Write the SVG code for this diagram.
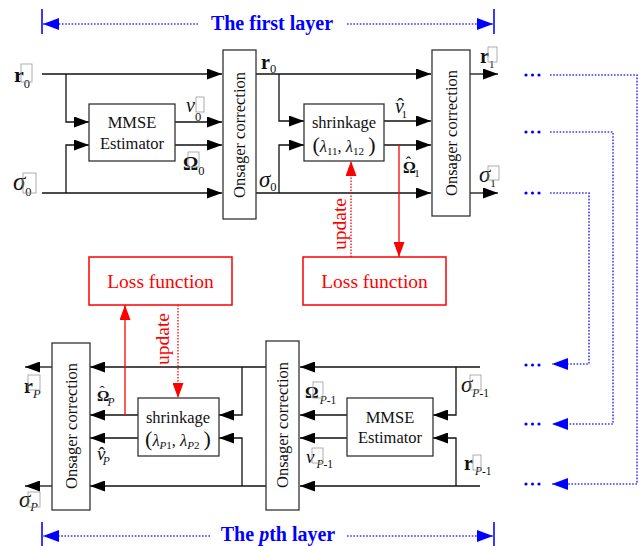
<svg xmlns="http://www.w3.org/2000/svg" width="642" height="546" viewBox="0 0 642 546" font-family="'Liberation Serif', 'Times New Roman', 'DejaVu Serif', serif">
<style>
text{font-family:'Liberation Serif','Times New Roman','DejaVu Serif',serif;fill:#111}
.box{fill:#fff;stroke:#333;stroke-width:1.3}
.rbox{fill:#fff;stroke:#f00;stroke-width:1.5}
.ln{fill:none;stroke:#111;stroke-width:1.3}
.ar{marker-end:url(#ab)}
.red{fill:none;stroke:#f00;stroke-width:1.3}
.rdot{fill:none;stroke:#f00;stroke-width:1.3;stroke-dasharray:1.5 1.5}
.bdot{fill:none;stroke:#3838ff;stroke-width:1.6;stroke-dasharray:1.6 1.6}
.bar{stroke:#3838ff;stroke-width:2}
.t{font-size:16.5px;text-anchor:middle}
.lf{font-size:19.5px;text-anchor:middle;fill:#f00}
.title{font-size:20px;font-weight:bold;fill:#00f;text-anchor:middle}
.b{font-weight:bold}
.i{font-style:italic}
.sub{font-size:12.5px}
.sq{fill:none;stroke:#999;stroke-width:0.8}
.dot{fill:#00f}
</style>
<defs>
<marker id="ab" markerUnits="userSpaceOnUse" markerWidth="15" markerHeight="11" refX="15" refY="5.5" orient="auto"><path d="M0,0 L15,5.5 L0,11 Z" fill="#000"/></marker>
<marker id="ar" markerUnits="userSpaceOnUse" markerWidth="15" markerHeight="11" refX="15" refY="5.5" orient="auto"><path d="M0,0 L15,5.5 L0,11 Z" fill="#f00"/></marker>
<marker id="abl" markerUnits="userSpaceOnUse" markerWidth="16" markerHeight="12" refX="16" refY="6" orient="auto"><path d="M0,0 L16,6 L0,12 Z" fill="#00f"/></marker>
</defs>

<g id="connectors">
<path class="ln ar" d="M42,74 H222"/>
<path class="ln ar" d="M66,74 V122 H89"/>
<path class="ln ar" d="M42,193 H222"/>
<path class="ln ar" d="M66,193 V145 H89"/>
<path class="ln ar" d="M175,122 H222"/>
<path class="ln ar" d="M175,145 H222"/>
<path class="ln ar" d="M256,74 H431"/>
<path class="ln ar" d="M279,74 V121 H304"/>
<path class="ln ar" d="M256,193 H431"/>
<path class="ln ar" d="M279,193 V145 H304"/>
<path class="ln ar" d="M384,121 H431"/>
<path class="ln ar" d="M384,145 H431"/>
<path class="ln ar" d="M470,74 H498"/>
<path class="ln ar" d="M470,193 H498"/>
<path class="red" d="M399,145 V257" marker-end="url(#ar)"/>
<path class="rdot" d="M351,257 V161" marker-end="url(#ar)"/>

<path class="ln ar" d="M480,367 H300"/>
<path class="ln ar" d="M456,367 V415 H433"/>
<path class="ln ar" d="M480,486 H300"/>
<path class="ln ar" d="M456,486 V438 H433"/>
<path class="ln ar" d="M347,415 H300"/>
<path class="ln ar" d="M347,438 H300"/>
<path class="ln ar" d="M266,367 H90"/>
<path class="ln ar" d="M242,367 V415 H219"/>
<path class="ln ar" d="M266,486 H90"/>
<path class="ln ar" d="M242,486 V438 H219"/>
<path class="ln ar" d="M138,415 H90"/>
<path class="ln ar" d="M138,438 H90"/>
<path class="ln ar" d="M52,367 H25"/>
<path class="ln ar" d="M52,486 H25"/>
<path class="red" d="M125,415 V305" marker-end="url(#ar)"/>
<path class="rdot" d="M178,305 V398" marker-end="url(#ar)"/>

<path class="bdot" d="M550,75 H637 V484 H552" marker-end="url(#abl)"/>
<path class="bdot" d="M550,132 H613 V424 H552" marker-end="url(#abl)"/>
<path class="bdot" d="M550,193 H589 V364 H552" marker-end="url(#abl)"/>

<path class="bdot" d="M198,24 H43" marker-end="url(#abl)"/>
<path class="bdot" d="M347,24 H493" marker-end="url(#abl)"/>
<path class="bdot" d="M210,536 H43" marker-end="url(#abl)"/>
<path class="bdot" d="M347,536 H493" marker-end="url(#abl)"/>
<line class="bar" x1="42" y1="9" x2="42" y2="34"/>
<line class="bar" x1="494" y1="9" x2="494" y2="34"/>
<line class="bar" x1="42" y1="522" x2="42" y2="546"/>
<line class="bar" x1="494" y1="522" x2="494" y2="546"/>
</g>

<g id="title1"><text class="title" x="272" y="30">The first layer</text></g>
<g id="title2"><text class="title" x="278" y="541">The <tspan font-style="italic">p</tspan>th layer</text></g>

<g id="mmse1"><rect class="box" x="89" y="104" width="86" height="57"/><text class="t" x="132" y="128">MMSE</text><text class="t" x="132" y="149">Estimator</text></g>
<g id="onsager1"><rect class="box" x="223" y="50" width="33" height="169"/><text class="t" transform="translate(245,135) rotate(-90)">Onsager correction</text></g>
<g id="shrink1"><rect class="box" x="304" y="104" width="80" height="57"/><text class="t" x="344" y="128">shrinkage</text><text class="t" x="344" y="152"><tspan font-size="22px">(</tspan><tspan class="i">λ</tspan><tspan font-size="11px" dy="3">11</tspan><tspan dy="-3">, </tspan><tspan class="i">λ</tspan><tspan font-size="11px" dy="3">12</tspan><tspan dy="-3"> </tspan><tspan font-size="22px">)</tspan></text></g>
<g id="onsager2"><rect class="box" x="432" y="50" width="38" height="166"/><text class="t" transform="translate(457,133) rotate(-90)">Onsager correction</text></g>
<g id="loss1"><rect class="rbox" x="89" y="257" width="143" height="48"/><text class="lf" x="160.5" y="288">Loss function</text></g>
<g id="loss2"><rect class="rbox" x="303" y="257" width="143" height="48"/><text class="lf" x="374.5" y="288">Loss function</text></g>
<g id="update1"><text class="lf" transform="translate(346,224) rotate(-90)" font-size="18.5px">update</text></g>
<g id="update2"><text class="lf" transform="translate(169,339) rotate(-90)" font-size="18.5px">update</text></g>

<g id="onsagerP"><rect class="box" x="52" y="343" width="38" height="167"/><text class="t" transform="translate(77,426) rotate(-90)">Onsager correction</text></g>
<g id="shrinkP"><rect class="box" x="138" y="398" width="81" height="58"/><text class="t" x="178" y="423">shrinkage</text><text class="t" x="178" y="446"><tspan font-size="22px">(</tspan><tspan class="i">λ</tspan><tspan font-size="11px" dy="3"><tspan class="i">P</tspan>1</tspan><tspan dy="-3">, </tspan><tspan class="i">λ</tspan><tspan font-size="11px" dy="3"><tspan class="i">P</tspan>2</tspan><tspan dy="-3"> </tspan><tspan font-size="22px">)</tspan></text></g>
<g id="onsagerP1"><rect class="box" x="266" y="341" width="33" height="169"/><text class="t" transform="translate(288,425) rotate(-90)">Onsager correction</text></g>
<g id="mmseP"><rect class="box" x="347" y="398" width="86" height="58"/><text class="t" x="390" y="423">MMSE</text><text class="t" x="390" y="443">Estimator</text></g>

<g id="labels">
<text x="14" y="82" font-size="22px"><tspan class="b">r</tspan><tspan class="sub" dy="6">0</tspan></text><rect class="sq" x="21" y="64" width="11" height="18"/>
<text x="186" y="112" font-size="20px"><tspan class="i">v</tspan><tspan class="sub" dy="9">0</tspan></text><rect class="sq" x="196" y="97" width="8" height="15"/>
<text x="183" y="170" font-size="19px"><tspan class="b">Ω</tspan><tspan class="sub" dy="5">0</tspan></text><rect class="sq" x="188" y="152" width="11" height="15"/>
<text x="13" y="190" font-size="25px"><tspan class="i">σ</tspan><tspan class="sub" dy="6">0</tspan></text><rect class="sq" x="23" y="173" width="13" height="20"/>
<text x="261" y="69" font-size="20px"><tspan class="b">r</tspan><tspan class="sub" dy="4">0</tspan></text>
<text x="259" y="187" font-size="23px"><tspan class="i">σ</tspan><tspan class="sub" dy="4">0</tspan></text>
<text x="395" y="113" font-size="20px"><tspan class="i">v</tspan><tspan dx="-7">ˆ</tspan><tspan font-size="11px" dx="-2" dy="5">1</tspan></text>
<text x="403" y="173" font-size="16px"><tspan class="b">Ω</tspan><tspan dx="-10" dy="-5">ˆ</tspan><tspan font-size="11px" dx="3" dy="9">1</tspan></text>
<text x="480" y="63" font-size="20px"><tspan class="b">r</tspan><tspan font-size="11px" dy="5">1</tspan></text><rect class="sq" x="488" y="47" width="9" height="15"/>
<text x="479" y="182" font-size="23px"><tspan class="i">σ</tspan><tspan font-size="11px" dy="5">1</tspan></text><rect class="sq" x="488" y="166" width="11" height="14"/>

<text x="24" y="393" font-size="20px"><tspan class="b">r</tspan><tspan class="sub i" dy="5">P</tspan></text><rect class="sq" x="28" y="375" width="12" height="15"/>
<text x="19" y="507" font-size="23px"><tspan class="i">σ</tspan><tspan class="sub i" dy="4">P</tspan></text><rect class="sq" x="28" y="492" width="12" height="15"/>
<text x="97" y="401" font-size="15.5px"><tspan class="b">Ω</tspan><tspan dx="-10" dy="-5">ˆ</tspan><tspan font-size="11.5px" class="i" dx="3" dy="10">P</tspan></text>
<text x="97" y="460" font-size="19px"><tspan class="i">v</tspan><tspan dx="-7">ˆ</tspan><tspan font-size="11.5px" class="i" dx="-2" dy="5">P</tspan></text>
<text x="305" y="398" font-size="17px"><tspan class="b">Ω</tspan><tspan font-size="11.5px" dx="1" dy="6"><tspan class="i">P</tspan>-1</tspan></text><rect class="sq" x="313" y="382" width="10" height="16"/>
<text x="306" y="463" font-size="19px"><tspan class="i">v</tspan><tspan font-size="11.5px" dx="2" dy="5"><tspan class="i">P</tspan>-1</tspan></text><rect class="sq" x="312" y="448" width="11" height="15"/>
<text x="461" y="392" font-size="23px"><tspan class="i">σ</tspan><tspan font-size="11.5px" dy="5"><tspan class="i">P</tspan>-1</tspan></text><rect class="sq" x="470" y="375" width="11" height="15"/>
<text x="464" y="470" font-size="20px"><tspan class="b">r</tspan><tspan font-size="11.5px" dx="2" dy="5"><tspan class="i">P</tspan>-1</tspan></text><rect class="sq" x="473" y="455" width="8" height="15"/>
</g>

<g id="dots">
<circle class="dot" cx="526" cy="75" r="1.6"/><circle class="dot" cx="532.5" cy="75" r="1.6"/><circle class="dot" cx="539" cy="75" r="1.6"/>
<circle class="dot" cx="526" cy="132" r="1.6"/><circle class="dot" cx="532.5" cy="132" r="1.6"/><circle class="dot" cx="539" cy="132" r="1.6"/>
<circle class="dot" cx="526" cy="193" r="1.6"/><circle class="dot" cx="532.5" cy="193" r="1.6"/><circle class="dot" cx="539" cy="193" r="1.6"/>
<circle class="dot" cx="526" cy="365" r="1.6"/><circle class="dot" cx="532.5" cy="365" r="1.6"/><circle class="dot" cx="539" cy="365" r="1.6"/>
<circle class="dot" cx="526" cy="424" r="1.6"/><circle class="dot" cx="532.5" cy="424" r="1.6"/><circle class="dot" cx="539" cy="424" r="1.6"/>
<circle class="dot" cx="526" cy="484" r="1.6"/><circle class="dot" cx="532.5" cy="484" r="1.6"/><circle class="dot" cx="539" cy="484" r="1.6"/>
</g>
</svg>
